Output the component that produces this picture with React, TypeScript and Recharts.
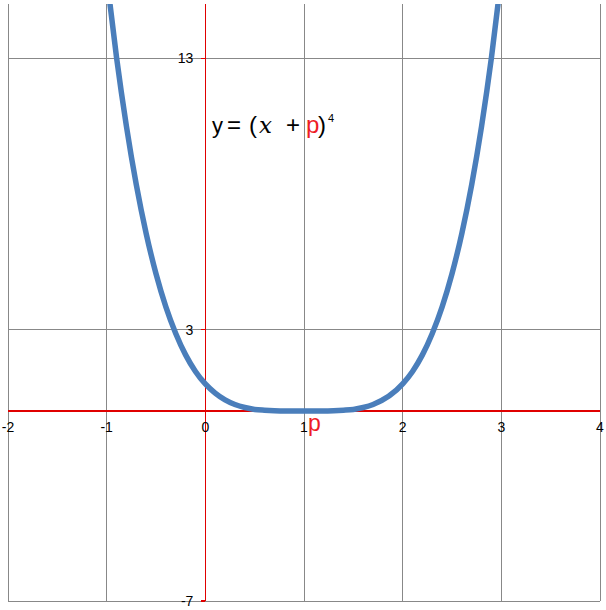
import React from 'react';
import { LineChart, Line, XAxis, YAxis, ReferenceLine, ReferenceDot, Customized } from 'recharts';

const xValues = [-1, -0.9, -0.8, -0.7, -0.6, -0.5, -0.4, -0.3, -0.2, -0.1, 0, 0.1, 0.2, 0.3, 0.4, 0.5, 0.6, 0.7, 0.8, 0.9, 1, 1.1, 1.2, 1.3, 1.4, 1.5, 1.6, 1.7, 2, 2.1, 2.2, 2.3, 2.4, 2.5, 2.6, 2.7, 2.8, 2.9, 3];
const yValues = [16, 13.03, 10.5, 8.35, 6.55, 5.06, 3.84, 2.86, 2.07, 1.46, 1, 0.66, 0.41, 0.24, 0.13, 0.06, 0.03, 0.01, 0, 0, 0, 0, 0, 0.01, 0.03, 0.06, 0.13, 0.24, 1, 1.46, 2.07, 2.86, 3.84, 5.06, 6.55, 8.35, 10.5, 13.03, 16];
const xTicks = [-2, -1, 0, 1, 2, 3, 4];
const yTicks = [-7, 3, 13];
const xDomain = [-2, 4];
const yDomain = [-7, 15];
const pLabel = 'p';

const data = xValues.map((x, i) => ({ x, y: yValues[i] }));

const GRID = '#888888';
const AXIS = '#e00000';
const RED = '#ee1c25';
const FONT = '"Liberation Sans", Arial, sans-serif';

const Equation = () => (
  <text y={133} fontFamily={FONT} fontSize={24} fill="#000">
    <tspan x={212} fontSize={22}>y</tspan>
    <tspan x={227}>=</tspan>
    <tspan x={249}>(</tspan>
    <tspan x={259} fontFamily='"DejaVu Serif", "Liberation Serif", serif' fontStyle="italic" fontSize={23}>x</tspan>
    <tspan x={286}>+</tspan>
    <tspan x={306} fill={RED}>p</tspan>
    <tspan x={318}>)</tspan>
    <tspan x={328} y={122} fontSize={11}>4</tspan>
  </text>
);

export default function App() {
  return (
    <div style={{ position: 'absolute', left: 0, top: 0 }}>
      <LineChart width={606} height={610} data={data} margin={{ top: 4, right: 6, bottom: 9, left: 8 }}>
        <XAxis type="number" dataKey="x" domain={xDomain} ticks={xTicks} hide allowDataOverflow />
        <YAxis type="number" domain={yDomain} ticks={yTicks} hide allowDataOverflow />
        {xTicks.filter((t) => t !== 0).map((t) => (
          <ReferenceLine key={'vx' + t} x={t} stroke={GRID} strokeWidth={1} ifOverflow="visible" shapeRendering="crispEdges" />
        ))}
        {yTicks.map((t) => (
          <ReferenceLine key={'hy' + t} y={t} stroke={GRID} strokeWidth={1} ifOverflow="visible" shapeRendering="crispEdges" />
        ))}
        <ReferenceLine x={0} stroke={AXIS} strokeWidth={1.3} ifOverflow="visible" shapeRendering="crispEdges" />
        <ReferenceLine y={0} stroke={AXIS} strokeWidth={1.3} ifOverflow="visible" shapeRendering="crispEdges" />
        <Line
          type="monotone"
          dataKey="y"
          stroke="#4a7ebb"
          strokeWidth={5.5}
          dot={false}
          activeDot={false}
          isAnimationActive={false}
          strokeLinejoin="round"
        />
        {xTicks.map((t) => (
          <ReferenceDot
            key={'lx' + t}
            x={t}
            y={0}
            r={0}
            ifOverflow="visible"
            shape={(p: any) => (
              <text x={p.cx} y={p.cy + 21} textAnchor="middle" fontFamily={FONT} fontSize={14} fill="#000">
                {t}
              </text>
            )}
          />
        ))}
        {yTicks.map((t) => (
          <ReferenceDot
            key={'ly' + t}
            x={0}
            y={t}
            r={0}
            ifOverflow="visible"
            shape={(p: any) => (
              <g>
                <line x1={p.cx - 4} x2={p.cx} y1={p.cy} y2={p.cy} stroke={AXIS} strokeWidth={1.3} shapeRendering="crispEdges" />
                <text x={p.cx - 12} y={p.cy + 5} textAnchor="end" fontFamily={FONT} fontSize={14} fill="#000">
                  {t}
                </text>
              </g>
            )}
          />
        ))}
        <ReferenceDot
          x={1}
          y={0}
          r={0}
          ifOverflow="visible"
          shape={(p: any) => (
            <text x={p.cx + 4} y={p.cy + 20} fontFamily={FONT} fontSize={23} fill={RED}>
              {pLabel}
            </text>
          )}
        />
        <Customized component={<Equation />} />
      </LineChart>
    </div>
  );
}
